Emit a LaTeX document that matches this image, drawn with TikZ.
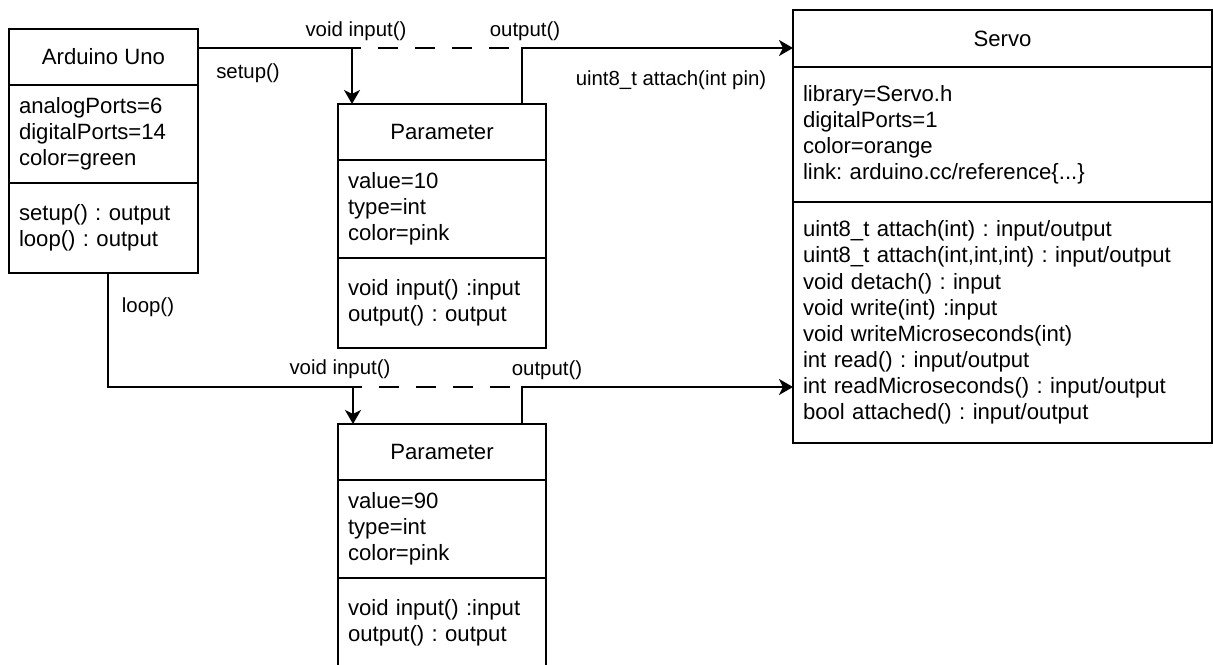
\documentclass[tikz,border=0pt]{standalone}
\usepackage{fontspec}
\setmainfont{Liberation Sans}
\usetikzlibrary{positioning,arrows.meta}

\newcommand{\boxfont}{\fontsize{16.6}{19.6}\selectfont\frenchspacing}
\newcommand{\labelfont}{\fontsize{15.3}{18}\selectfont\frenchspacing}

\tikzset{every picture/.style={line width=1.4pt}}
\tikzset{
  boxtitle/.style={draw, outer sep=0pt, inner sep=0pt, anchor=north west, minimum height=42pt, font=\boxfont},
  boxpart/.style={draw, outer sep=0pt, inner xsep=7.5pt, inner ysep=0pt, align=left, font=\boxfont},
  flow/.style={-{Stealth[length=10.5pt,width=12pt,inset=3pt]}},
  linklabel/.style={inner sep=0pt, font=\labelfont},
}

\begin{document}
\begin{tikzpicture}[x=0.75pt,y=0.75pt,yscale=-1,xscale=1]
\useasboundingbox (0,0) rectangle (1213,664);

% Arduino Uno
\node[boxtitle, minimum width=141.75pt] (ardtitle) at (9,29) {Arduino Uno};
\node[boxpart, below=0pt of ardtitle, text width=126.75pt, minimum height=73.5pt] (ardattr) {analogPorts=6\\digitalPorts=14\\color=green};
\node[boxpart, below=0pt of ardattr, text width=126.75pt, minimum height=67.5pt] (ardmeth) {setup() : output\\loop() : output};

% Parameter (setup)
\node[boxtitle, minimum width=156pt] (par1title) at (338,104) {Parameter};
\node[boxpart, below=0pt of par1title, text width=141pt, minimum height=73.5pt] (par1attr) {value=10\\type=int\\color=pink};
\node[boxpart, below=0pt of par1attr, text width=141pt, minimum height=67.5pt] (par1meth) {void input() :input\\output() : output};

% Parameter (loop)
\node[boxtitle, minimum width=156pt] (par2title) at (338,424) {Parameter};
\node[boxpart, below=0pt of par2title, text width=141pt, minimum height=73.5pt] (par2attr) {value=90\\type=int\\color=pink};
\node[boxpart, below=0pt of par2attr, text width=141pt, minimum height=67.5pt] (par2meth) {void input() :input\\output() : output};

% Servo
\node[boxtitle, minimum width=314.25pt, minimum height=42.75pt] (servotitle) at (793,10) {Servo};
\node[boxpart, below=0pt of servotitle, text width=299.25pt, minimum height=101.25pt] (servoattr) {library=Servo.h\\digitalPorts=1\\color=orange\\link: arduino.cc/reference\{...\}};
\node[boxpart, below=0pt of servoattr, text width=299.25pt, minimum height=180.75pt] (servometh) {uint8\_t attach(int) : input/output\\uint8\_t attach(int,int,int) : input/output\\void detach() : input\\void write(int) :input\\void writeMicroseconds(int)\\int read() : input/output\\int readMicroseconds() : input/output\\bool attached() : input/output};

% corners of the connectors
\coordinate (in1) at (352,48);
\coordinate (out1) at (522,48);
\coordinate (lp) at (108,387);
\coordinate (in2) at (353,387);
\coordinate (out2) at (522,387);

% setup() branch
\draw[flow] (ardtitle.east |- in1) -- (in1) -- (in1 |- par1title.north);
\draw[dash pattern=on 15pt off 12.75pt, dash phase=8.25pt] (in1) -- (out1);
\draw[flow] (out1 |- par1title.north) -- (out1) -- (out1 -| servotitle.west);

% loop() branch
\draw[flow] (lp |- ardmeth.south) -- (lp) -- (in2) -- (in2 |- par2title.north);
\draw[dash pattern=on 15pt off 12.75pt, dash phase=8.25pt] (in2) -- (out2);
\draw[flow] (out2 |- par2title.north) -- (out2) -- (out2 -| servometh.west);

% Labels
\node[linklabel] (lblin1) at (356,31) {void input()};
\node[linklabel] (lblout1) at (525,31) {output()};
\node[linklabel] (lblsetup) at (248,73) {setup()};
\node[linklabel] (lblattach) at (671,80) {uint8\_t attach(int pin)};
\node[linklabel] (lblloop) at (148,307) {loop()};
\node[linklabel] (lblin2) at (340,369) {void input()};
\node[linklabel] (lblout2) at (547,370) {output()};

\end{tikzpicture}
\end{document}
